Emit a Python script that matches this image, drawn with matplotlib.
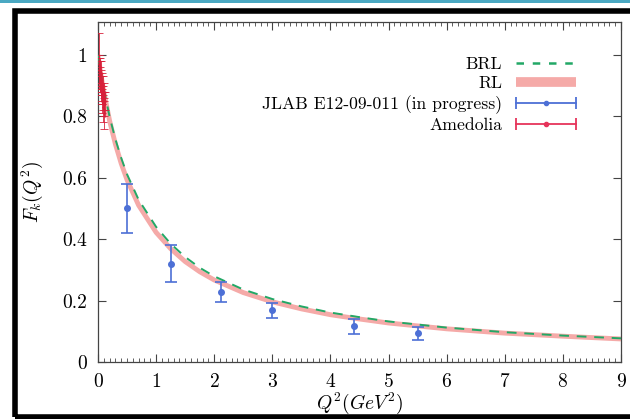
import numpy as np
import matplotlib
matplotlib.use('Agg')
import matplotlib.pyplot as plt
from matplotlib.lines import Line2D
from matplotlib.patches import Rectangle
from matplotlib.legend_handler import HandlerBase
from matplotlib.ticker import MultipleLocator

plt.rcParams['font.family'] = 'serif'
plt.rcParams['font.serif'] = ['cmr10', 'DejaVu Serif']
plt.rcParams['mathtext.fontset'] = 'cm'
plt.rcParams['axes.formatter.use_mathtext'] = True

# model curves
q2_curve = [0.0, 0.05, 0.1, 0.2, 0.3, 0.4, 0.5, 0.7, 1.0, 1.25, 1.5, 1.75, 2.0, 2.5,
            3.0, 3.5, 4.0, 4.5, 5.0, 6.0, 7.0, 8.0, 9.0]
rl = [1.0, 0.936, 0.880, 0.785, 0.709, 0.646, 0.593, 0.510, 0.422, 0.369, 0.327,
      0.294, 0.267, 0.226, 0.196, 0.173, 0.154, 0.140, 0.127, 0.108, 0.094, 0.084, 0.075]
brl = [1.0, 0.940, 0.888, 0.798, 0.725, 0.664, 0.611, 0.528, 0.440, 0.385, 0.342,
       0.307, 0.279, 0.236, 0.205, 0.181, 0.161, 0.146, 0.132, 0.112, 0.097, 0.086, 0.077]

# JLAB E12-09-011
jlab_q2 = [0.5, 1.26, 2.12, 3.0, 4.4, 5.5]
jlab_f = [0.50, 0.32, 0.228, 0.168, 0.116, 0.094]
jlab_err = [0.08, 0.06, 0.034, 0.024, 0.025, 0.021]

# Amedolia
ame_q2 = [0.015, 0.02, 0.025, 0.03, 0.035, 0.04, 0.045, 0.05, 0.055, 0.06,
          0.065, 0.07, 0.075, 0.08, 0.085, 0.09, 0.095, 0.10, 0.11, 0.12]
ame_f = [0.98, 0.97, 0.95, 0.93, 0.96, 0.92, 0.90, 0.94, 0.88, 0.91,
         0.87, 0.89, 0.85, 0.90, 0.86, 0.83, 0.88, 0.84, 0.81, 0.85]
ame_err = [0.09, 0.03, 0.04, 0.05, 0.03, 0.04, 0.03, 0.04, 0.03, 0.04,
           0.03, 0.05, 0.04, 0.03, 0.04, 0.05, 0.03, 0.04, 0.05, 0.03]
ame_xerr = 0.006

green = '#22a866'
pink = '#f5aaa8'
blue = '#4d70d6'
red = '#e6345a'
red_pts = '#d8203a'

fig = plt.figure(figsize=(6.3, 4.19), dpi=100)
ax = fig.add_axes([98 / 630, 1 - 362 / 419, 523 / 630, 340 / 419])

ax.plot(q2_curve, rl, color=pink, lw=3.5, solid_capstyle='butt', zorder=2)
ax.plot(q2_curve, brl, color=green, lw=1.4, ls=(0, (5, 4)), zorder=3)
ax.errorbar(jlab_q2, jlab_f, yerr=jlab_err, fmt='o', ms=4, color=blue,
            capsize=4, elinewidth=1.2, capthick=1.2, zorder=4)
ax.errorbar(ame_q2, ame_f, yerr=ame_err, xerr=ame_xerr, fmt='.', ms=2, color=red_pts,
            capsize=3, elinewidth=0.7, capthick=0.7, alpha=0.85, zorder=4)

ax.set_xlim(0, 9)
ax.set_ylim(0, 1.107)
ax.xaxis.set_major_locator(MultipleLocator(1))
ax.xaxis.set_minor_locator(MultipleLocator(0.1))
ax.set_yticks([0, 0.2, 0.4, 0.6, 0.8, 1.0])
ax.set_yticklabels(['0', '0.2', '0.4', '0.6', '0.8', '1'])
ax.tick_params(direction='in', top=True, right=True, labelsize=14, length=6,
               width=0.8, color='#444444', pad=8)
ax.tick_params(axis='x', which='minor', direction='in', top=True, length=3,
               width=0.6, color='#444444')
for s in ax.spines.values():
    s.set_color('#444444')
    s.set_linewidth(0.9)

ax.set_xlabel(r'$Q^2(GeV^2)$', fontsize=14, labelpad=0)
ax.set_ylabel(r'$F_k(Q^2)$', fontsize=14, labelpad=12)


class HErr(HandlerBase):
    def create_artists(self, legend, orig, xdescent, ydescent, width, height,
                       fontsize, trans):
        c = orig.get_color()
        y = height / 2 - ydescent
        x0, x1 = -xdescent, -xdescent + width
        line = Line2D([x0, x1], [y, y], color=c, lw=1.3)
        caps = Line2D([x0, x1], [y, y], ls='none', marker='|', ms=9, mew=1.3, color=c)
        dot = Line2D([(x0 + x1) / 2], [y], ls='none', marker='o', ms=3, color=c)
        for a in (line, caps, dot):
            a.set_transform(trans)
        return [line, caps, dot]


h_brl = Line2D([], [], color=green, lw=1.8, ls=(0, (3, 3.5)))
h_rl = Line2D([], [], color=pink, lw=7, solid_capstyle='butt')
h_jlab = Line2D([], [], color=blue)
h_ame = Line2D([], [], color=red)
ax.legend([h_brl, h_rl, h_jlab, h_ame],
          ['BRL', 'RL', 'JLAB E12-09-011 (in progress)', 'Amedolia'],
          handler_map={h_jlab: HErr(), h_ame: HErr()},
          loc='upper right', bbox_to_anchor=(0.945, 0.945), frameon=False,
          markerfirst=False, fontsize=12.7, handlelength=3.4, labelspacing=0.22,
          handletextpad=0.8)

# figure frame
fig.patches.append(Rectangle((0, 1 - 3 / 419), 1, 3 / 419, transform=fig.transFigure,
                             facecolor='#4aa8c2', edgecolor='none'))
fig.patches.append(Rectangle((14.5 / 630, 2.5 / 419), 1.0, 1 - 14 / 419,
                             transform=fig.transFigure, facecolor='none',
                             edgecolor='black', lw=4, clip_on=False))

fig.savefig('out.png', dpi=100)
